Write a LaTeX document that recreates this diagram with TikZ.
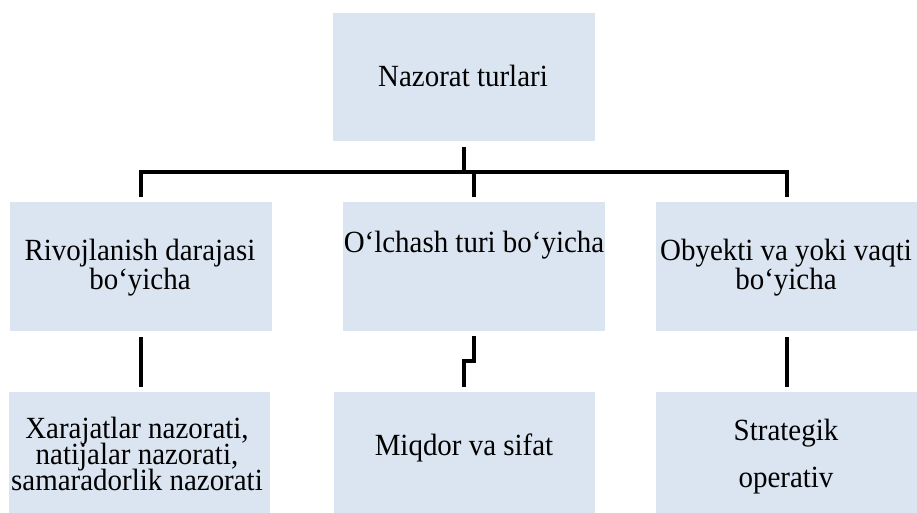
\documentclass[tikz,border=0pt]{standalone}
\usepackage{fontspec}
\setmainfont[FakeStretch=0.94]{Liberation Serif}
\usetikzlibrary{calc}
\definecolor{boxblue}{RGB}{219,229,241}
% centred lines stacked with a fixed baseline distance; baseline = first line
\newcommand\stacklines[2]{{\baselineskip=#1\lineskiplimit=-100pt\relax
  \vtop{\halign{\hfil##\hfil\cr#2\crcr}}}}
\begin{document}
\begin{tikzpicture}[x=1pt,y=-1pt,
  box/.style={fill=boxblue,draw=none,inner sep=0pt},
  toprow/.style={box,minimum width=262pt,minimum height=128pt},
  midrow/.style={box,minimum width=262pt,minimum height=129pt},
  lowrow/.style={box,minimum width=261pt,minimum height=121pt},
  txt/.style={inner sep=0pt,anchor=base,font=\fontsize{30.8}{30.8}\selectfont},
  conn/.style={line width=4pt,black}]
\useasboundingbox (0,0) rectangle (917,513);

% boxes
\node[toprow] (top) at (464,77) {};
\node[midrow] (r2a) at (140.5,266.5) {};
\node[midrow] (r2b) at (474,266.5) {};
\node[midrow] (r2c) at (786.5,266.5) {};
\node[lowrow] (r3a) at (139.5,452.5) {};
\node[lowrow] (r3b) at (464,452.5) {};
\node[lowrow] (r3c) at (786.5,452.5) {};

% texts
\node[txt] (ttop) at (463,87) {Nazorat turlari};
\node[txt] (t2a) at (140,260) {\stacklines{29.5pt}{Rivojlanish darajasi\cr bo‘yicha}};
\node[txt] (t2b) at (474,252) {O‘lchash turi bo‘yicha};
\node[txt] (t2c) at (786,260) {\stacklines{29.5pt}{Obyekti va yoki vaqti\cr bo‘yicha}};
\node[txt] (t3a) at (137,438) {\stacklines{26pt}{Xarajatlar nazorati,\cr natijalar nazorati,\cr samaradorlik nazorati}};
\node[txt] (t3b) at (464,455) {Miqdor va sifat};
\node[txt] (t3c) at (786,440) {\stacklines{47pt}{Strategik\cr operativ}};

% connectors
\coordinate (bus) at (464,172);
\draw[conn] ([yshift=-6pt]top.south) -- (top.south |- bus);
\draw[conn] ([yshift=5pt]r2a.north) -- (r2a.north |- bus)
  -- (r2c.north |- bus) -- ([yshift=5pt]r2c.north);
\draw[conn] (r2b.north |- bus) -- ([yshift=5pt]r2b.north);
\draw[conn] ([yshift=-6pt]r2a.south) -- ([yshift=5pt]r2a.south |- r3a.north);
\draw[conn] ([yshift=-5pt]r2b.south) -- ++(0,25) -| ([yshift=5pt]r3b.north);
\draw[conn] ([yshift=-6pt]r2c.south) -- ([yshift=5pt]r2c.south |- r3c.north);
\end{tikzpicture}
\end{document}
